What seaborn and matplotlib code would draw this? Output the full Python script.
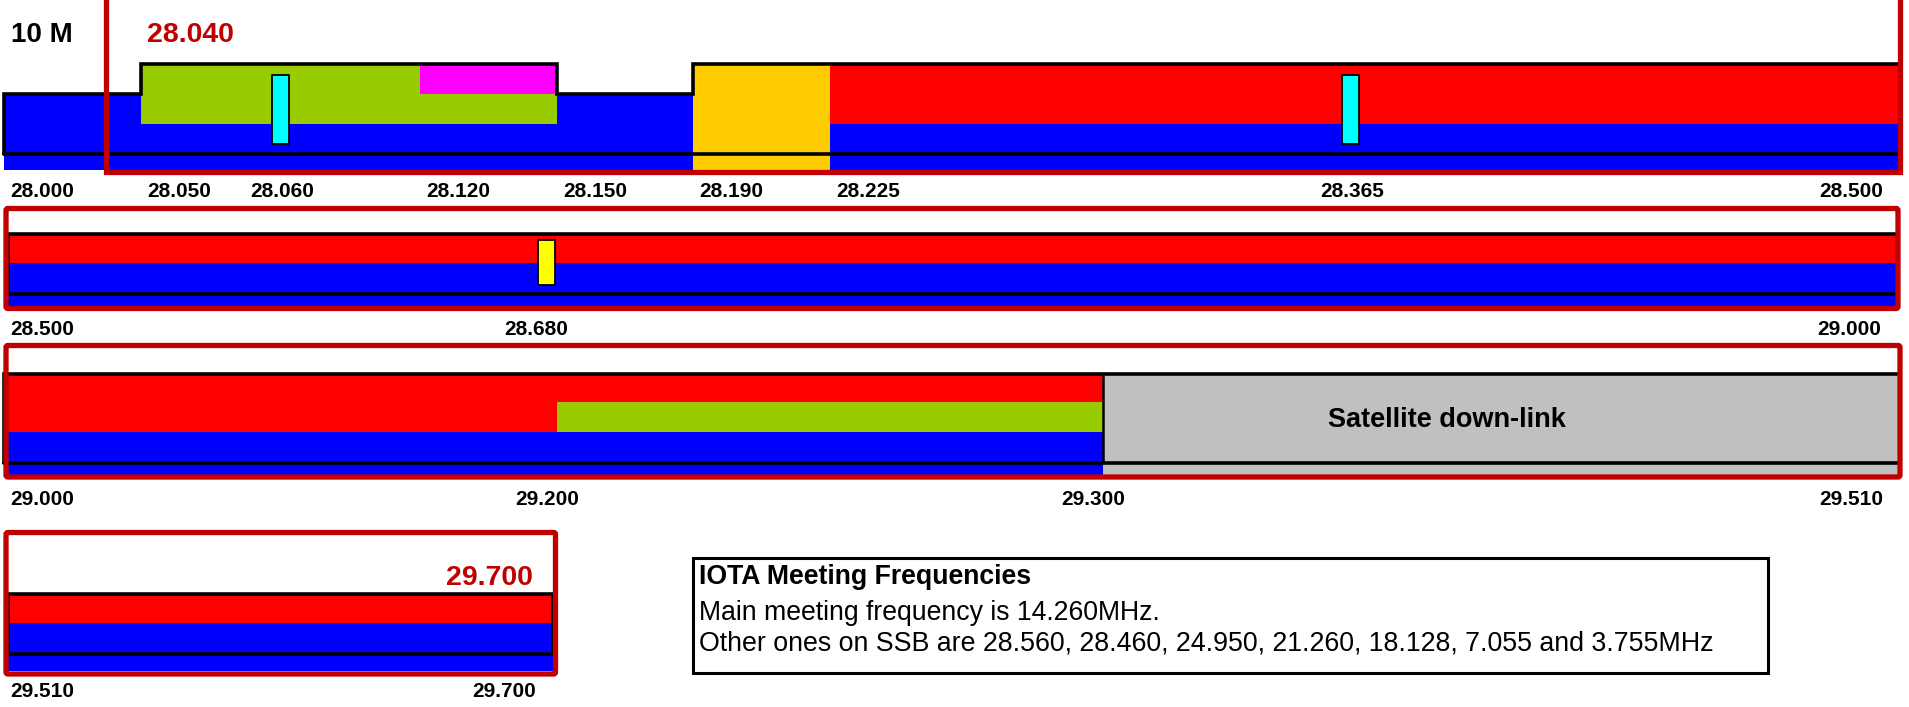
import numpy as np
import pandas as pd
import matplotlib
matplotlib.use('Agg')
import matplotlib.pyplot as plt
from matplotlib.patches import FancyBboxPatch, Rectangle
import seaborn as sns

sns.set_style('white')
plt.rcParams['font.family'] = ['Liberation Sans', 'DejaVu Sans']
plt.rcParams['text.color'] = 'black'

# 10 m band plan segments (MHz), one entry per coloured block
seg_row = [1, 1, 1, 1, 1, 2, 2, 3, 3, 3, 3, 4, 4]
seg_start = [28.000, 28.050, 28.120, 28.190, 28.225,
             28.500, 28.500,
             29.000, 29.000, 29.200, 29.300,
             29.510, 29.510]
seg_stop = [28.500, 28.150, 28.150, 28.225, 28.500,
            29.000, 29.000,
            29.300, 29.300, 29.300, 29.510,
            29.700, 29.700]
seg_mode = ['CW', 'Digital', 'Packet', 'Beacons', 'Phone',
            'CW', 'Phone',
            'CW', 'Phone', 'Digital', 'Satellite',
            'CW', 'Phone']

# centre of activity markers
marker_row = [1, 1, 2]
marker_freq = [28.060, 28.365, 28.680]
marker_kind = ['QRP', 'QRP', 'SSTV']

# frequency labels under each row
row1_ticks = [28.000, 28.050, 28.060, 28.120, 28.150, 28.190, 28.225, 28.365, 28.500]
row2_ticks = [28.500, 28.680, 29.000]
row3_ticks = [29.000, 29.200, 29.300, 29.510]
row4_ticks = [29.510, 29.700]

licence_low = 28.040
licence_high = 29.700

info_title = 'IOTA Meeting Frequencies'
info_lines = ['Main meeting frequency is 14.260MHz.',
              'Other ones on SSB are 28.560, 28.460, 24.950, 21.260, 18.128, 7.055 and 3.755MHz']

# ---- layout (pixels) ----
W, H = 1909, 707
row_knots = {
    1: ([28.000, 28.040, 28.050, 28.060, 28.120, 28.150, 28.190, 28.225, 28.365, 28.500],
        [4, 106, 141, 280, 420, 557, 693, 830, 1350, 1900]),
    2: ([28.500, 28.680, 29.000], [8, 546, 1898]),
    3: ([29.000, 29.200, 29.300, 29.510], [4, 557, 1103, 1900]),
    4: ([29.510, 29.700], [8, 553]),
}
row_levels = {
    1: dict(top=64, dig=64, step=94, low=124, line=154, bot=170),
    2: dict(top=233.5, dig=263, step=263, low=263, line=293.5, bot=307),
    3: dict(top=373.5, dig=402, step=432, low=432, line=462.5, bot=476),
    4: dict(top=594, dig=623, step=623, low=623, line=653.5, bot=671),
}
tick_base = {1: 197, 2: 335, 3: 505, 4: 697}
marker_box = {1: (74, 143), 2: (239, 284)}
mode_span = {'CW': ('step', 'bot'), 'Digital': ('dig', 'low'), 'Packet': ('top', 'step'),
             'Beacons': ('top', 'bot'), 'Phone': ('top', 'low'), 'Satellite': ('top', 'bot')}
palette = {'CW': '#0000FF', 'Digital': '#99CC00', 'Packet': '#FF00FF', 'Beacons': '#FFCC00',
           'Phone': '#FF0000', 'Satellite': '#C0C0C0'}
marker_colors = {'QRP': '#00FFFF', 'SSTV': '#FFFF00'}
RED_EDGE = '#C00000'

band = pd.DataFrame({'row': seg_row, 'start': seg_start, 'stop': seg_stop, 'mode': seg_mode})
spots = pd.DataFrame({'row': marker_row, 'freq': marker_freq, 'kind': marker_kind})
ticks = {1: row1_ticks, 2: row2_ticks, 3: row3_ticks, 4: row4_ticks}


def outline(sub, lv):
    edges = sorted(set(sub.start) | set(sub.stop))
    xs, ys = [], []
    for a, b in zip(edges[:-1], edges[1:]):
        cover = sub[(sub.start <= a) & (sub.stop >= b)]
        tall = any(lv[mode_span[m][0]] == lv['top'] for m in cover['mode'])
        y = lv['top'] if tall else lv['step']
        xs += [a, b]
        ys += [y, y]
    return ([edges[0]] + xs + [edges[-1], edges[0]],
            [lv['line']] + ys + [lv['line'], lv['line']])


fig = plt.figure(figsize=(W / 100, H / 100), dpi=100)
axes = {}
for r, (kf, kp) in row_knots.items():
    ax = fig.add_axes([kp[0] / W, 0, (kp[-1] - kp[0]) / W, 1])
    fwd = lambda f, kf=kf, kp=kp: np.interp(f, kf, kp)
    inv = lambda p, kf=kf, kp=kp: np.interp(p, kp, kf)
    ax.set_xscale('function', functions=(fwd, inv))
    ax.set_xlim(kf[0], kf[-1])
    ax.set_ylim(H, 0)
    ax.axis('off')
    ax.patch.set_visible(False)
    axes[r] = ax

    sub = band[band.row == r]
    lv = row_levels[r]
    for _, s in sub.iterrows():
        y0, y1 = (lv[k] for k in mode_span[s['mode']])
        ax.barh((y0 + y1) / 2, s['stop'] - s['start'], left=s['start'], height=y1 - y0,
                color=palette[s['mode']], linewidth=0, clip_on=False, zorder=1)

    xs, ys = outline(sub, lv)
    ax.plot(xs, ys, color='black', lw=2.6, clip_on=False, zorder=3, solid_joinstyle='miter')
    for f in sub.loc[sub['mode'] == 'Satellite', 'start']:
        ax.plot([f, f], [lv['top'], lv['line']], color='black', lw=1.8, clip_on=False, zorder=3)

    for kind, grp in spots[spots.row == r].groupby('kind'):
        y0, y1 = marker_box[r]
        h = y1 - y0
        k = 17 / h
        verts = [(-k, -1), (k, -1), (k, 1), (-k, 1), (-k, -1)]
        sns.scatterplot(x=grp.freq.values, y=[(y0 + y1) / 2] * len(grp), marker=verts,
                        s=(h * 0.72) ** 2, color=marker_colors[kind], edgecolor='black',
                        linewidth=1.3, ax=ax, zorder=4, clip_on=False, legend=False)

    tk = ticks[r]
    for i, f in enumerate(tk):
        if i == 0:
            ha, dx = 'left', 10 - kp[0]
        elif i == len(tk) - 1:
            ha, dx = 'right', -17
        elif r == 1 and f not in marker_freq:
            ha, dx = 'left', 6
        elif r == 1:
            ha, dx = 'center', 2
        else:
            ha, dx = 'center', -10
        ax.annotate(f'{f:.3f}', (f, tick_base[r]), xytext=(dx, 0), textcoords='offset pixels',
                    ha=ha, va='baseline', fontsize=15, fontweight='bold', color='black',
                    annotation_clip=False)

# red licence outline on the first row
ax1 = axes[1]
f_end = row_knots[1][0][-1]
ax1.plot([licence_low, licence_low, f_end, f_end], [-10, 172, 172, -10], color=RED_EDGE,
         lw=3.8, clip_on=False, zorder=6, solid_joinstyle='miter')

canvas = fig.add_axes([0, 0, 1, 1], zorder=10)
canvas.set_xlim(0, W)
canvas.set_ylim(H, 0)
canvas.axis('off')
canvas.patch.set_visible(False)

row_frames = {2: (6, 208.5, 1898, 308.5), 3: (6, 345.5, 1900, 477), 4: (6, 532.5, 555.5, 674)}
for x0, y0, x1, y1 in row_frames.values():
    canvas.add_patch(FancyBboxPatch((x0, y0), x1 - x0, y1 - y0,
                                    boxstyle='round,pad=0,rounding_size=2',
                                    fill=False, ec=RED_EDGE, lw=3.8))

canvas.text(11, 42, '10 M', fontsize=20, fontweight='bold', ha='left', va='baseline')
canvas.text(147, 42, f'{licence_low:.3f}', fontsize=20.5, fontweight='bold', color=RED_EDGE,
            ha='left', va='baseline')
canvas.text(533, 585, f'{licence_high:.3f}', fontsize=20.5, fontweight='bold', color=RED_EDGE,
            ha='right', va='baseline')
canvas.text(1447, 427, 'Satellite down-link', fontsize=19.5, fontweight='bold',
            ha='center', va='baseline')

canvas.add_patch(Rectangle((693, 557.5), 1075, 115, fill=False, ec='black', lw=2.2))
canvas.text(699, 584, info_title, fontsize=19.2, fontweight='bold', ha='left', va='baseline')
canvas.text(699, 620, info_lines[0], fontsize=19.2, ha='left', va='baseline')
canvas.text(699, 650, info_lines[1], fontsize=19.3, ha='left', va='baseline')

fig.savefig('out.png', dpi=100)
